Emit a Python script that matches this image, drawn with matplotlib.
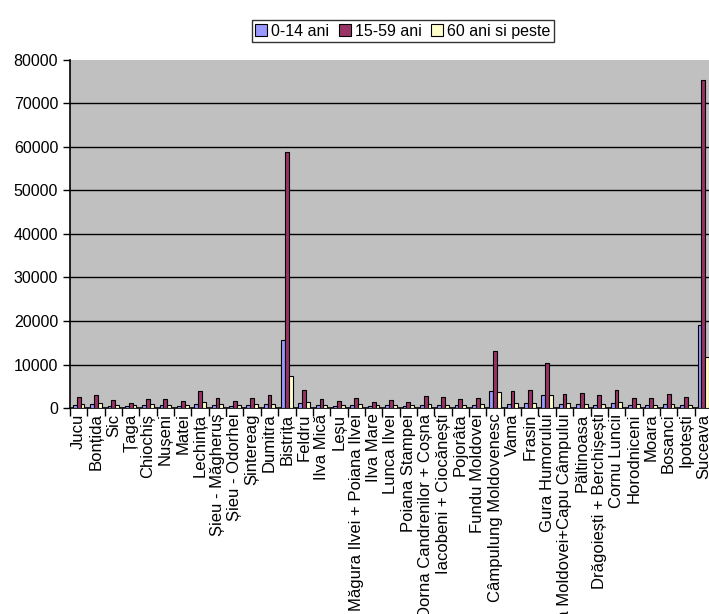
import numpy as np
import matplotlib.pyplot as plt
from matplotlib.ticker import FixedLocator

plt.rcParams['font.family'] = ['Liberation Sans', 'DejaVu Sans']

# Localitati si populatia pe grupe de varsta
localitati = [
    'Jucu', 'Bonțida', 'Sic', 'Țaga', 'Chiochiș', 'Nușeni', 'Matei', 'Lechința',
    'Șieu - Măgheruș', 'Șieu - Odorhei', 'Șintereag', 'Dumitra', 'Bistrița',
    'Feldru', 'Ilva Mică', 'Leșu', 'Măgura Ilvei + Poiana Ilvei', 'Ilva Mare',
    'Lunca Ilvei', 'Poiana Stampei', 'Dorna Candrenilor + Coșna',
    'Iacobeni + Ciocănești', 'Pojorâta', 'Fundu Moldovei',
    'Câmpulung Moldovenesc', 'Vama', 'Frasin', 'Gura Humorului',
    'Valea Moldovei+Capu Câmpului', 'Păltinoasa', 'Drăgoiești + Berchișești',
    'Cornu Luncii', 'Horodniceni', 'Moara', 'Bosanci', 'Ipotești', 'Suceava',
]
ani_0_14 = [800, 900, 500, 400, 600, 600, 500, 1000, 700, 500, 700, 900, 15600,
            1100, 700, 500, 600, 500, 600, 400, 800, 700, 600, 700, 3900,
            900, 1100, 3100, 900, 1000, 800, 1200, 600, 700, 1000, 800, 19100]
ani_15_59 = [2600, 3000, 1800, 1200, 2000, 2000, 1700, 3900, 2200, 1500, 2300,
             2900, 58800, 4200, 2100, 1700, 2200, 1400, 1800, 1400, 2800, 2600,
             2000, 2300, 13200, 4000, 4100, 10300, 3300, 3500, 3000, 4200,
             2200, 2400, 3300, 2600, 75300]
ani_60_plus = [1000, 1200, 800, 600, 900, 800, 800, 1300, 900, 700, 1000, 1000,
               7400, 1300, 800, 700, 900, 700, 700, 600, 900, 800, 700, 900,
               3600, 1200, 1200, 2900, 1100, 1000, 1000, 1400, 900, 800, 1000,
               800, 11700]

serii = [('0-14 ani', ani_0_14, '#9999FF'),
         ('15-59 ani', ani_15_59, '#993366'),
         ('60 ani si peste', ani_60_plus, '#FFFFCC')]

fig = plt.figure(figsize=(7.09, 6.14), dpi=100)
ax = fig.add_axes([0.0987, 0.3355, 0.9055, 0.5668])
ax.set_facecolor('#C0C0C0')

x = np.arange(len(localitati))
w = 0.222
for i, (nume, val, cul) in enumerate(serii):
    ax.bar(x + (i - 1) * w, val, w, color=cul, edgecolor='black',
           linewidth=0.8, label=nume, zorder=3)

ax.set_xlim(-0.5, len(localitati) - 0.5)
ax.set_ylim(0, 80000)
yt = np.arange(0, 80001, 10000)
ax.set_yticks(yt)
ax.set_yticklabels([str(v) for v in yt], fontsize=11.5)
for v in yt[1:-1]:
    ax.axhline(v, color='black', lw=1.0, zorder=1)

ax.set_xticks(x)
ax.set_xticklabels(localitati, rotation=90, fontsize=12)
ax.xaxis.set_minor_locator(FixedLocator(np.arange(-0.5, len(localitati), 1)))
ax.tick_params(axis='x', which='major', length=0, pad=4)
ax.tick_params(axis='x', which='minor', length=6, width=1, color='black')
ax.tick_params(axis='y', length=5, width=1, color='black')

for s in ['top', 'right']:
    ax.spines[s].set_visible(False)
ax.spines['left'].set_linewidth(1.2)
ax.spines['bottom'].set_linewidth(1.2)

leg = fig.legend(loc='center', bbox_to_anchor=(0.568, 0.9495), ncol=3,
                 fontsize=11.5, frameon=True, fancybox=False, shadow=False,
                 handlelength=0.75, handleheight=0.75, handletextpad=0.25,
                 columnspacing=0.6, borderpad=0.2, borderaxespad=0)
leg.get_frame().set_edgecolor('black')
leg.get_frame().set_linewidth(1.0)

fig.savefig('out.png', dpi=100)
